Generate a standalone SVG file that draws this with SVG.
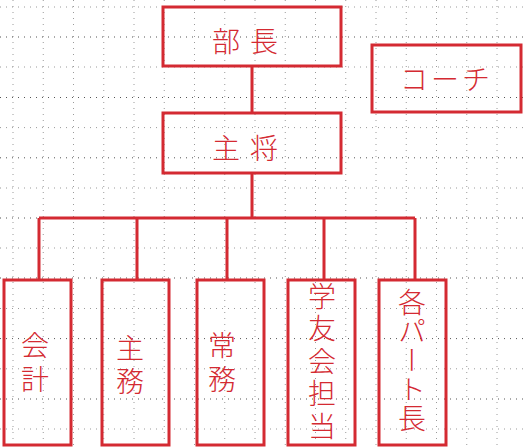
<svg xmlns="http://www.w3.org/2000/svg" width="524" height="447" viewBox="0 0 524 447">
<style>
.gv{stroke:#9a9a9a;stroke-width:1;stroke-dasharray:1 5;fill:none}
.gh{stroke:#9a9a9a;stroke-width:1;stroke-dasharray:1 5;fill:none}
.gd{stroke:#555;stroke-width:1;stroke-dasharray:1 5;fill:none}
.box{fill:none;stroke:#d42a32;stroke-width:3}
.ln{fill:none;stroke:#d42a32;stroke-width:3}
.t{fill:#d42a32;font-family:"Noto Sans CJK JP","Noto Sans CJK SC",sans-serif;font-weight:300;font-size:28px}
.v{writing-mode:vertical-rl}
</style>
<rect width="524" height="447" fill="#fff"/>
<g id="grid">
<path class="gv" d="M13 0V447M43.25 0V447M73.5 0V447M103.75 0V447M134 0V447M164.25 0V447M194.5 0V447M224.75 0V447M255 0V447M285.25 0V447M315.5 0V447M345.75 0V447M376 0V447M406.25 0V447M436.5 0V447M466.75 0V447M497 0V447"/>
<path class="gh" d="M0 7H524M0 67H524M0 127.6H524M0 188H524M0 248H524M0 308.5H524M0 368.8H524M0 429H524"/>
<path class="gd" d="M0 37H524M0 97.5H524M0 157.8H524M0 218H524M0 278H524M0 338.6H524M0 399H524"/>
</g>
<g id="connectors">
<path class="ln" d="M252 66V113M252 173V218M39 218H415M39 218V280M137 218V280M227 218V280M324 218V280M415 218V280"/>
</g>
<g id="n-bucho"><rect class="box" x="163" y="7" width="178" height="59"/><text class="t" x="212" y="40" dominant-baseline="central" letter-spacing="10">部長</text></g>
<g id="n-coach"><rect class="box" x="372" y="45" width="149" height="67"/><text class="t" x="400" y="78" dominant-baseline="central" letter-spacing="3">コーチ</text></g>
<g id="n-shusho"><rect class="box" x="163" y="113" width="178" height="60"/><text class="t" x="212" y="147" dominant-baseline="central" letter-spacing="10">主将</text></g>
<g id="n-kaikei"><rect class="box" x="4" y="280" width="67" height="165"/><text class="t v" x="35" y="331" font-size="30" letter-spacing="6">会計</text></g>
<g id="n-shumu"><rect class="box" x="102" y="280" width="67" height="165"/><text class="t v" x="130" y="334" font-size="30" letter-spacing="5">主務</text></g>
<g id="n-jomu"><rect class="box" x="197" y="280" width="67" height="165"/><text class="t v" x="222" y="331" font-size="30" letter-spacing="6">常務</text></g>
<g id="n-gakuyu"><rect class="box" x="288" y="280" width="67" height="165"/><text class="t v" x="322" y="282" letter-spacing="4.5">学友会担当</text></g>
<g id="n-part"><rect class="box" x="379" y="280" width="67" height="165"/><text class="t v" x="412" y="288" letter-spacing="1">各パート長</text></g>
</svg>
